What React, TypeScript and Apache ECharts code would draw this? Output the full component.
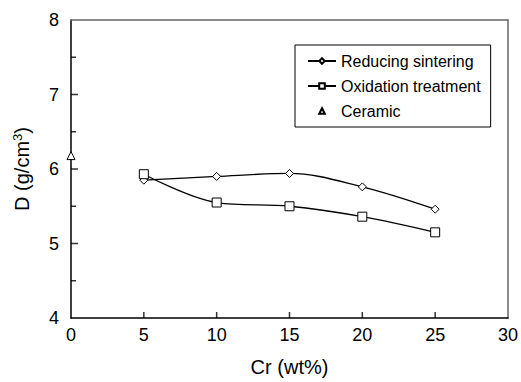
import React, { useEffect, useRef } from "react";
import * as echarts from "echarts";

const xValues = [5, 10, 15, 20, 25];
const reducingSintering = [5.85, 5.9, 5.94, 5.76, 5.46];
const oxidationTreatment = [5.93, 5.55, 5.5, 5.36, 5.15];
const ceramic = [[0, 6.18]];
const seriesNames = ["Reducing sintering", "Oxidation treatment", "Ceramic"];
const xTicks = [5, 10, 15, 20, 25];
const yMajorTicks = [5, 6, 7];
const yMinorTicks = [4.5, 5.5, 6.5, 7.5];

const FONT = "Liberation Sans, Arial, sans-serif";

export default function App() {
  const ref = useRef<HTMLDivElement>(null);
  useEffect(() => {
    if (!ref.current) return;
    const chart = echarts.init(ref.current, undefined, { renderer: "svg" });
    const pts = (ys: number[]) => xValues.map((x, i) => [x, ys[i]]);
    const markerStyle = { color: "#fff", borderColor: "#000", borderWidth: 1 };
    const frameAxis = {
      type: "value",
      axisLine: { show: true, onZero: false, lineStyle: { color: "#666", width: 1.5 } },
      axisTick: { show: false },
      axisLabel: { show: false },
      splitLine: { show: false },
    };
    const tickSeries = (data: number[][], size: number[], offset: number[]) => ({
      type: "scatter",
      silent: true,
      clip: false,
      z: 6,
      data,
      symbol: "rect",
      symbolSize: size,
      symbolOffset: offset,
      itemStyle: { color: "#000", borderWidth: 0 },
    });
    chart.setOption({
      animation: false,
      backgroundColor: "#fff",
      textStyle: { fontFamily: FONT, color: "#000" },
      grid: {
        left: 71,
        right: 12,
        top: 20,
        bottom: 62,
        show: false,
      },
      legend: {
        orient: "vertical",
        left: 295,
        top: 45,
        padding: [8, 10, 8, 12],
        itemGap: 9,
        itemWidth: 28,
        itemHeight: 7,
        borderColor: "#000",
        borderWidth: 1,
        backgroundColor: "#fff",
        textStyle: { fontFamily: FONT, fontSize: 16, color: "#000", lineHeight: 16 },
        data: [
          { name: seriesNames[0] },
          { name: seriesNames[1] },
          { name: seriesNames[2], lineStyle: { opacity: 0, width: 0 } },
        ],
      },
      xAxis: [
        {
          type: "value",
          position: "bottom",
          min: 0,
          max: 30,
          interval: 5,
          name: "Cr (wt%)",
          nameLocation: "middle",
          nameGap: 39,
          nameTextStyle: { fontFamily: FONT, fontSize: 20, color: "#000" },
          axisLine: { show: true, onZero: false, lineStyle: { color: "#000", width: 1.5 } },
          axisTick: { show: false },
          axisLabel: { fontFamily: FONT, fontSize: 18, color: "#000", margin: 8 },
          splitLine: { show: false },
        },
        { ...frameAxis, position: "top", min: 0, max: 30 },
      ],
      yAxis: [
        {
          type: "value",
          position: "left",
          min: 4,
          max: 8,
          interval: 1,
          name: "{a|D (g/cm}{s|3}{a|)}",
          nameLocation: "middle",
          nameGap: 38,
          nameRotate: 90,
          nameTextStyle: {
            fontFamily: FONT,
            color: "#000",
            rich: {
              a: { fontFamily: FONT, fontSize: 20, color: "#000" },
              s: { fontFamily: FONT, fontSize: 13, color: "#000", verticalAlign: "top", padding: [0, 0, 9, 0] },
            },
          },
          axisLine: { show: true, onZero: false, lineStyle: { color: "#000", width: 1.5 } },
          axisTick: { show: false },
          axisLabel: { fontFamily: FONT, fontSize: 18, color: "#000", margin: 12 },
          splitLine: { show: false },
        },
        { ...frameAxis, position: "right", min: 4, max: 8 },
      ],
      series: [
        {
          name: seriesNames[0],
          type: "line",
          smooth: 0.35,
          data: pts(reducingSintering),
          symbol: "diamond",
          symbolSize: 8,
          lineStyle: { color: "#000", width: 1.3 },
          itemStyle: markerStyle,
        },
        {
          name: seriesNames[1],
          type: "line",
          smooth: 0.35,
          data: pts(oxidationTreatment),
          symbol: "rect",
          symbolSize: 9,
          lineStyle: { color: "#000", width: 1.3 },
          itemStyle: markerStyle,
        },
        {
          name: seriesNames[2],
          type: "line",
          data: ceramic,
          showSymbol: true,
          symbol: "triangle",
          symbolSize: 8,
          lineStyle: { width: 0, opacity: 0 },
          itemStyle: markerStyle,
          clip: false,
          z: 7,
        },
        tickSeries(xTicks.map((x) => [x, 4]), [1.5, 6], [0, -3]),
        tickSeries(yMajorTicks.map((y) => [0, y]), [7, 1.5], [3.5, 0]),
        tickSeries(yMinorTicks.map((y) => [0, y]), [5, 1.5], [2.5, 0]),
      ],
    });
    return () => chart.dispose();
  }, []);
  return (
    <div
      ref={ref}
      style={{ position: "fixed", left: 0, top: 0, width: 521, height: 382 }}
    />
  );
}
